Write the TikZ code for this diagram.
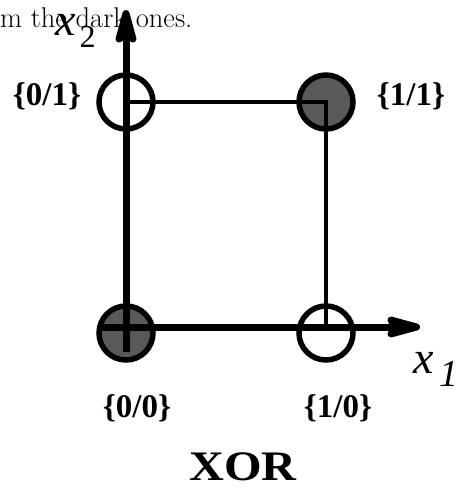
\documentclass[tikz,border=0pt]{standalone}
\usepackage{fontspec}
\newfontfamily\tnr{Liberation Serif}
\usetikzlibrary{arrows.meta}

\begin{document}
\begin{tikzpicture}[
  x=1pt, y=-1pt,
  pt/.style={circle, draw, line width=5.5pt, minimum size=54pt, inner sep=0pt},
  on/.style={pt, fill=black!65},
  off/.style={pt},
  side/.style={line width=4pt},
  axis/.style={line width=7pt, -{Stealth[length=46pt 0, width=24pt 0, inset=7pt, round]}},
  lbl/.style={font=\tnr\bfseries\fontsize{33}{36}\selectfont, inner sep=0pt, anchor=base},
]
\useasboundingbox (0,0) rectangle (459,490);
% --- caption line cut at the top ---
\node[anchor=base west, inner sep=0pt, font=\fontsize{28.5}{32}\selectfont] (cap) at (0,27) {m the dark ones.};
% --- the four input points ---
\node[off] (p01) at (126,102) {};
\node[on]  (p11) at (326,102) {};
\node[on]  (p00) at (126,333) {};
\node[off] (p10) at (326,333) {};
% --- square ---
\coordinate (s10) at (326,327);
\draw[side] (p01.center) -- (p11.center) -- (s10);
% --- axes ---
\coordinate (ox) at (100,327);
\coordinate (oy) at (126,352);
\coordinate (tx) at (420,327);
\coordinate (ty) at (126,10);
\draw[axis] (oy) -- (ty);
\draw[axis] (ox) -- (tx);
\node[anchor=base west, inner sep=0pt] (xtwo) at (55,35)
  {\tnr\fontsize{46}{46}\selectfont\itshape x\hspace{4pt}\raisebox{-12pt}{\fontsize{32}{32}\selectfont\upshape 2}};
\node[anchor=base west, inner sep=0pt] (xone) at (413,373)
  {\tnr\fontsize{46}{46}\selectfont\itshape x\hspace{6pt}\raisebox{-13pt}{\fontsize{38}{38}\selectfont 1}};
% --- labels ---
\node[lbl] (l01) at (47,105)  {\{0/1\}};
\node[lbl] (l11) at (411,105) {\{1/1\}};
\node[lbl] (l00) at (137,417) {\{0/0\}};
\node[lbl] (l10) at (338,417) {\{1/0\}};
\node[anchor=base, inner sep=0pt, font=\tnr\bfseries\fontsize{42}{46}\selectfont] (xor) at (243,480) {\scalebox{1.15}[1]{XOR}};
\end{tikzpicture}
\end{document}
